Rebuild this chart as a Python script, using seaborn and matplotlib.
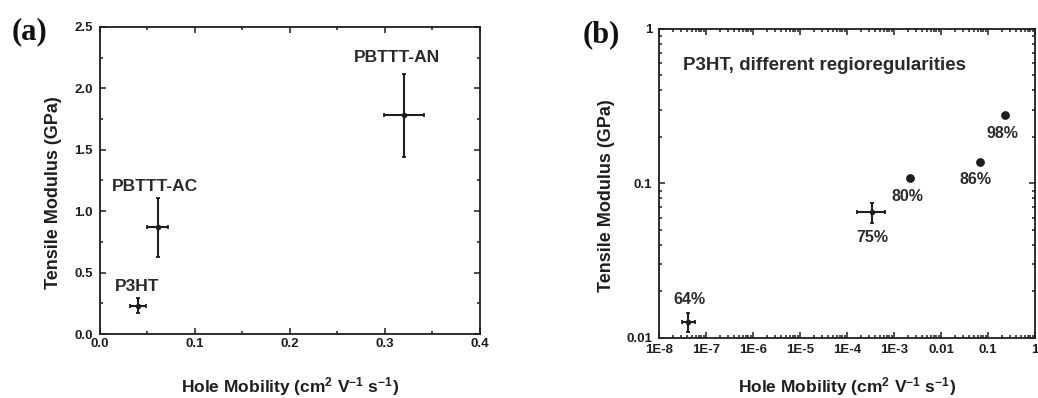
import numpy as np
import pandas as pd
import matplotlib
matplotlib.use("Agg")
import matplotlib.pyplot as plt
from matplotlib.ticker import (MultipleLocator, LogLocator, FixedLocator,
                               FixedFormatter, NullFormatter, FormatStrFormatter)
import seaborn as sns

# ---- Panel (a): three polymers ----
polymers = ["P3HT", "PBTTT-AC", "PBTTT-AN"]
mobility_a = [0.040, 0.061, 0.320]
mobility_a_err = [0.008, 0.011, 0.021]
modulus_a = [0.23, 0.87, 1.78]
modulus_a_err = [0.06, 0.24, 0.34]

# ---- Panel (b): P3HT with different regioregularities ----
regioregularity = ["64%", "75%", "80%", "86%", "98%"]
mobility_b = [4.1e-8, 3.4e-4, 2.2e-3, 0.068, 0.23]
modulus_b = [0.0127, 0.0654, 0.109, 0.138, 0.277]
# error ranges (low, high) for the two samples that have them
mobility_b_low = [3.1e-8, 1.63e-4, None, None, None]
mobility_b_high = [5.8e-8, 6.4e-4, None, None, None]
modulus_b_low = [0.0109, 0.0555, None, None, None]
modulus_b_high = [0.0145, 0.0748, None, None, None]

x_ticks_b = [1e-8, 1e-7, 1e-6, 1e-5, 1e-4, 1e-3, 1e-2, 1e-1, 1]
x_tick_labels_b = ["1E-8", "1E-7", "1E-6", "1E-5", "1E-4", "1E-3", "0.01", "0.1", "1"]
y_ticks_b = [0.01, 0.1, 1]
y_tick_labels_b = ["0.01", "0.1", "1"]

sns.set_theme(style="ticks")
ink = "#1e1e1e"
label_ink = "#2a2a2a"
plt.rcParams.update({
    "font.family": ["Liberation Sans", "DejaVu Sans"],
    "font.weight": "bold",
    "axes.labelweight": "bold",
    "mathtext.fontset": "custom",
    "mathtext.rm": "Liberation Sans:bold",
    "mathtext.it": "Liberation Sans:bold",
    "mathtext.bf": "Liberation Sans:bold",
    "text.color": ink,
    "axes.labelcolor": ink,
    "axes.edgecolor": ink,
    "xtick.color": ink,
    "ytick.color": ink,
    "axes.linewidth": 1.3,
})

fig = plt.figure(figsize=(10.38, 3.98), dpi=100)
ax_a = fig.add_axes([0.0963, 0.1608, 0.3661, 0.7714])
ax_b = fig.add_axes([0.6349, 0.1508, 0.3622, 0.7764])

xlabel = r"Hole Mobility (cm$^{2}$ V$^{-1}$ s$^{-1}$)"
ylabel = "Tensile Modulus (GPa)"


def style_ticks(ax):
    ax.tick_params(which="both", direction="in", top=True, right=True,
                   labelsize=9.5, width=1.1)
    ax.tick_params(which="major", length=4.5)
    ax.tick_params(which="minor", length=2.5)
    ax.tick_params(axis="x", pad=3)
    ax.tick_params(axis="y", pad=5)
    for lab in ax.get_xticklabels() + ax.get_yticklabels():
        lab.set_fontweight("bold")


# ---- Panel (a) ----
df_a = pd.DataFrame({"polymer": polymers, "mobility": mobility_a,
                     "modulus": modulus_a})
ax_a.errorbar(mobility_a, modulus_a, xerr=mobility_a_err, yerr=modulus_a_err,
              fmt="none", ecolor=ink, elinewidth=1.5, capsize=1.5, capthick=1.3)
sns.scatterplot(data=df_a, x="mobility", y="modulus", ax=ax_a, color=ink,
                s=16, linewidth=0, legend=False, zorder=3)
label_offsets_a = [(-1, 19), (-3, 41), (-7, 58)]
for name, x, y, off in zip(polymers, mobility_a, modulus_a, label_offsets_a):
    ax_a.annotate(name, (x, y), xytext=off, textcoords="offset pixels",
                  ha="center", va="center", fontsize=12.5, fontweight="bold",
                  color=label_ink)
ax_a.set_xlim(0, 0.4)
ax_a.set_ylim(0, 2.5)
ax_a.xaxis.set_major_locator(MultipleLocator(0.1))
ax_a.xaxis.set_minor_locator(MultipleLocator(0.05))
ax_a.yaxis.set_major_locator(MultipleLocator(0.5))
ax_a.yaxis.set_minor_locator(MultipleLocator(0.25))
ax_a.xaxis.set_major_formatter(FormatStrFormatter("%.1f"))
ax_a.yaxis.set_major_formatter(FormatStrFormatter("%.1f"))
ax_a.set_xlabel(xlabel, fontsize=12.5, fontweight="bold")
ax_a.set_ylabel(ylabel, fontsize=13, fontweight="bold")
ax_a.xaxis.set_label_coords(0.5, -0.134)
ax_a.yaxis.set_label_coords(-0.100, 0.46)
style_ticks(ax_a)
fig.text(0.011, 0.92, "(a)", fontsize=22, fontweight="bold",
         family="Liberation Serif", color="#111111", va="center", ha="left")

# ---- Panel (b) ----
df_b = pd.DataFrame({"rr": regioregularity, "mobility": mobility_b,
                     "modulus": modulus_b,
                     "x_lo": mobility_b_low, "x_hi": mobility_b_high,
                     "y_lo": modulus_b_low, "y_hi": modulus_b_high})
with_err = df_b.dropna(subset=["x_lo"])
without_err = df_b[df_b["x_lo"].isna()]
xerr = np.vstack([with_err["mobility"] - with_err["x_lo"].astype(float),
                  with_err["x_hi"].astype(float) - with_err["mobility"]])
yerr = np.vstack([with_err["modulus"] - with_err["y_lo"].astype(float),
                  with_err["y_hi"].astype(float) - with_err["modulus"]])
ax_b.errorbar(with_err["mobility"], with_err["modulus"], xerr=xerr, yerr=yerr,
              fmt="none", ecolor=ink, elinewidth=1.5, capsize=1.5, capthick=1.3)
sns.scatterplot(data=with_err, x="mobility", y="modulus", ax=ax_b, color=ink,
                s=16, linewidth=0, legend=False, zorder=3)
sns.scatterplot(data=without_err, x="mobility", y="modulus", ax=ax_b,
                color=ink, s=40, linewidth=0, legend=False, zorder=3)
ax_b.set_xscale("log")
ax_b.set_yscale("log")
ax_b.set_xlim(1e-8, 1)
ax_b.set_ylim(0.01, 1)
label_offsets_b = [(2, 22), (0, -26), (-3, -19), (-5, -18), (-3, -18)]
for name, x, y, off in zip(regioregularity, mobility_b, modulus_b, label_offsets_b):
    ax_b.annotate(name, (x, y), xytext=off, textcoords="offset pixels",
                  ha="center", va="center", fontsize=11.5, fontweight="bold",
                  color=label_ink)
ax_b.text(0.064, 0.883, "P3HT, different regioregularities",
          transform=ax_b.transAxes, fontsize=13.5, fontweight="bold",
          color=label_ink, ha="left", va="center")
ax_b.xaxis.set_major_locator(FixedLocator(x_ticks_b))
ax_b.xaxis.set_major_formatter(FixedFormatter(x_tick_labels_b))
ax_b.xaxis.set_minor_locator(LogLocator(base=10, subs=np.arange(2, 10), numticks=20))
ax_b.xaxis.set_minor_formatter(NullFormatter())
ax_b.yaxis.set_major_locator(FixedLocator(y_ticks_b))
ax_b.yaxis.set_major_formatter(FixedFormatter(y_tick_labels_b))
ax_b.yaxis.set_minor_locator(LogLocator(base=10, subs=np.arange(2, 10), numticks=20))
ax_b.yaxis.set_minor_formatter(NullFormatter())
ax_b.set_xlabel(xlabel, fontsize=12.5, fontweight="bold")
ax_b.set_ylabel(ylabel, fontsize=13, fontweight="bold")
ax_b.xaxis.set_label_coords(0.5, -0.120)
ax_b.yaxis.set_label_coords(-0.117, 0.46)
style_ticks(ax_b)
ax_b.tick_params(axis="x", pad=4)
fig.text(0.561, 0.912, "(b)", fontsize=22, fontweight="bold",
         family="Liberation Serif", color="#111111", va="center", ha="left")

fig.savefig("out.png", dpi=100, facecolor="white")
